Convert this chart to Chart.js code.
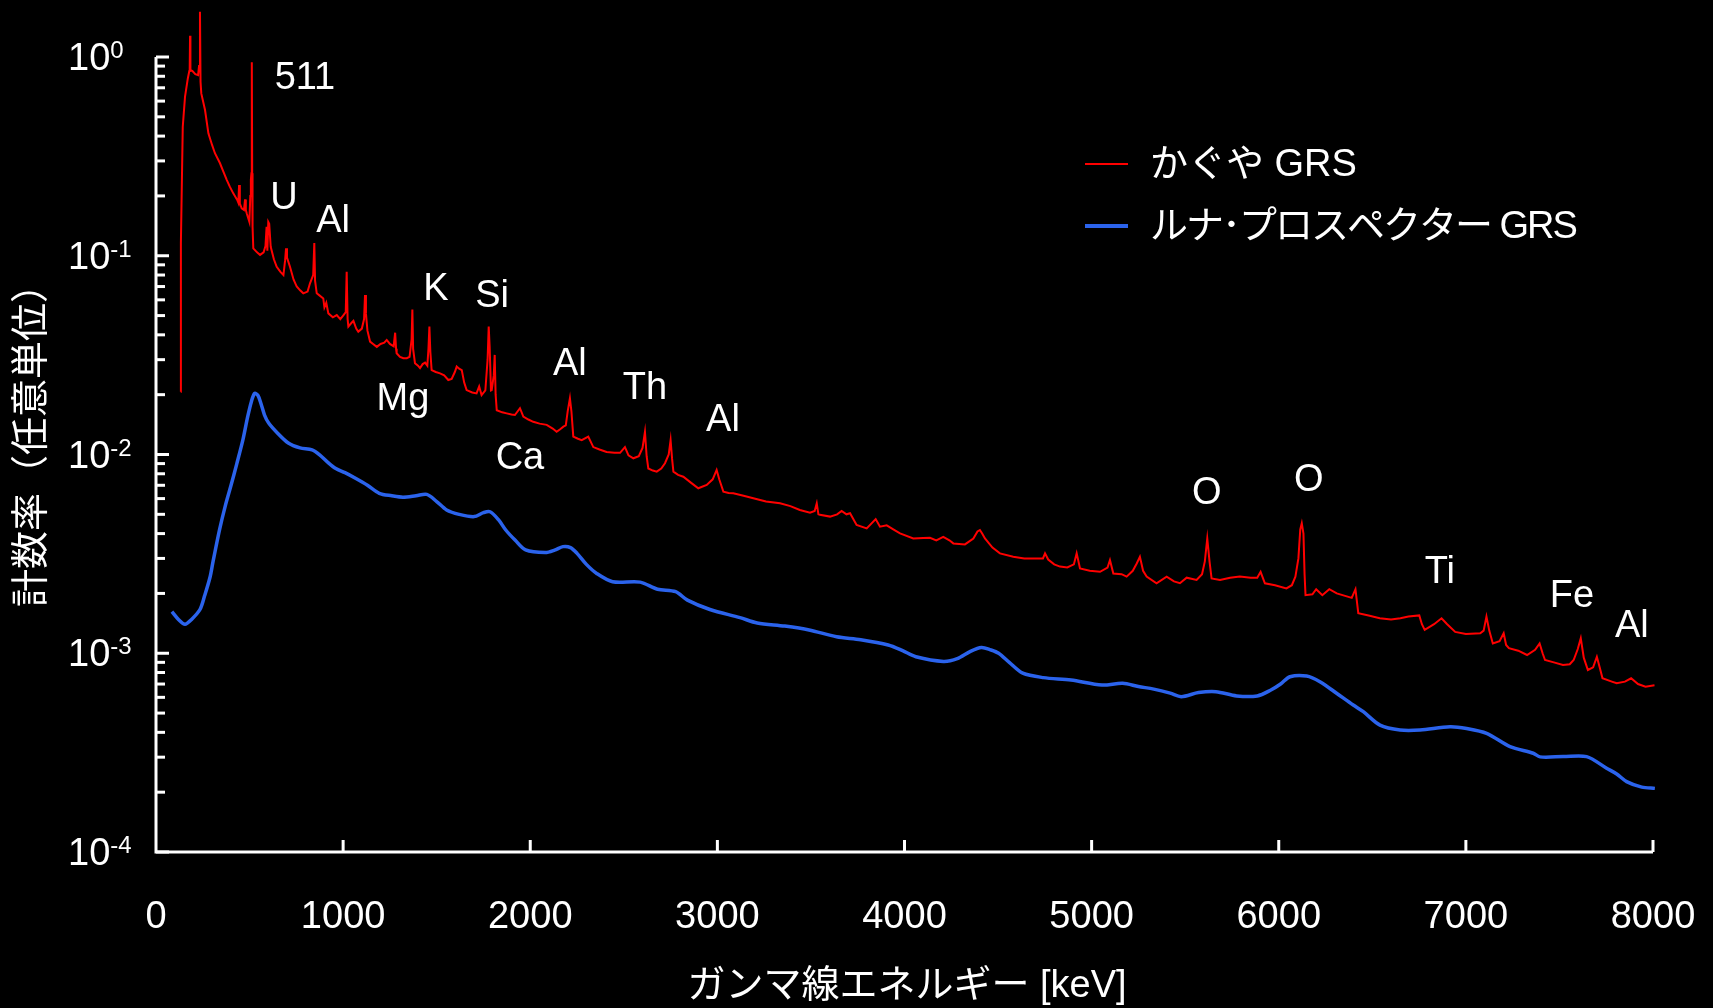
<!DOCTYPE html>
<html lang="ja">
<head>
<meta charset="utf-8">
<title>ガンマ線スペクトル</title>
<script src="https://cdn.jsdelivr.net/npm/chart.js@4.4.0/dist/chart.umd.min.js"></script>
<style>
  html, body { margin: 0; padding: 0; background: #000; }
  #wrap { width: 1713px; height: 1008px; }
</style>
</head>
<body>
<div id="wrap"><canvas id="c" width="1713" height="1008"></canvas></div>
<script>
// Kaguya GRS spectrum: energy [keV] and count rate (arbitrary units)
const kaguyaKeV = [
  132, 133, 143, 155, 170, 178, 180, 182, 184, 195, 210, 225, 230, 235, 238, 242,
  262, 280, 300, 315, 342, 360, 378, 395, 413, 435, 440, 444, 448, 458, 470, 476,
  480, 485, 499, 504, 507, 510, 512, 514, 516, 520, 540, 556, 575, 585, 591, 595,
  600, 605, 613, 630, 645, 665, 681, 690, 695, 700, 716, 735, 752, 770, 787, 810,
  823, 840, 846, 850, 859, 875, 894, 900, 910, 921, 945, 966, 985, 1000, 1014, 1019,
  1024, 1028, 1045, 1055, 1070, 1081, 1100, 1112, 1117, 1122, 1130, 1144, 1160, 1180, 1200, 1220,
  1233, 1250, 1270, 1278, 1283, 1286, 1304, 1322, 1340, 1355, 1366, 1370, 1374, 1384, 1400, 1411,
  1425, 1438, 1450, 1456, 1461, 1466, 1473, 1495, 1518, 1540, 1562, 1580, 1597, 1607, 1620, 1634,
  1647, 1660, 1690, 1713, 1727, 1740, 1760, 1772, 1778, 1783, 1790, 1794, 1805, 1810, 1815, 1821,
  1850, 1874, 1900, 1918, 1945, 1963, 1990, 2016, 2050, 2088, 2120, 2141, 2160, 2177, 2190, 2200,
  2212, 2220, 2230, 2255, 2275, 2310, 2337, 2370, 2408, 2450, 2480, 2506, 2525, 2551, 2580, 2600,
  2613, 2622, 2631, 2655, 2676, 2700, 2720, 2740, 2750, 2758, 2765, 2790, 2818, 2860, 2898, 2943,
  2975, 2996, 3010, 3032, 3060, 3085, 3140, 3192, 3260, 3335, 3390, 3441, 3495, 3520, 3531, 3540,
  3548, 3602, 3640, 3664, 3690, 3709, 3744, 3798, 3846, 3869, 3905, 3940, 3976, 4047, 4100, 4136,
  4170, 4207, 4240, 4261, 4323, 4368, 4390, 4403, 4415, 4430, 4470, 4510, 4581, 4640, 4688, 4740,
  4751, 4768, 4800, 4831, 4870, 4905, 4920, 4938, 4990, 5045, 5085, 5098, 5116, 5160, 5187, 5220,
  5241, 5258, 5275, 5294, 5347, 5401, 5440, 5472, 5508, 5561, 5590, 5605, 5618, 5630, 5641, 5686,
  5740, 5792, 5850, 5885, 5903, 5926, 5980, 6041, 6070, 6089, 6105, 6115, 6123, 6132, 6138, 6143,
  6180, 6200, 6233, 6270, 6310, 6350, 6390, 6410, 6425, 6480, 6540, 6600, 6650, 6693, 6751, 6765,
  6780, 6830, 6870, 6900, 6943, 7000, 7077, 7095, 7110, 7125, 7144, 7180, 7202, 7215, 7230, 7280,
  7327, 7370, 7394, 7410, 7423, 7470, 7519, 7555, 7576, 7598, 7614, 7630, 7652, 7680, 7700, 7715,
  7730, 7780, 7806, 7850, 7883, 7920, 7960, 8008
];
const kaguyaRate = [
  0.0207, 0.116, 0.446, 0.63, 0.78, 0.85, 0.86, 1.28, 0.86, 0.85, 0.82, 0.81, 0.9, 1.69, 0.75, 0.656,
  0.541, 0.413, 0.36, 0.328, 0.292, 0.265, 0.241, 0.222, 0.206, 0.19, 0.185, 0.227, 0.183, 0.173, 0.17, 0.192,
  0.17, 0.163, 0.148, 0.2, 0.241, 0.26, 0.94, 0.26, 0.14, 0.109, 0.104, 0.101, 0.104, 0.112, 0.14, 0.106,
  0.148, 0.145, 0.111, 0.096, 0.088, 0.083, 0.080, 0.095, 0.109, 0.098, 0.088, 0.076, 0.070, 0.067, 0.0647, 0.066,
  0.0727, 0.08, 0.116, 0.075, 0.0647, 0.063, 0.061, 0.055, 0.058, 0.0513, 0.049, 0.0503, 0.048, 0.050, 0.052, 0.083,
  0.048, 0.044, 0.046, 0.047, 0.043, 0.0415, 0.043, 0.048, 0.0635, 0.051, 0.042, 0.037, 0.036, 0.0348, 0.036, 0.0365,
  0.0377, 0.036, 0.035, 0.041, 0.034, 0.0323, 0.031, 0.0305, 0.0305, 0.031, 0.038, 0.0537, 0.034, 0.0288, 0.028, 0.0272,
  0.0285, 0.029, 0.028, 0.034, 0.044, 0.033, 0.0266, 0.026, 0.0256, 0.025, 0.0237, 0.024, 0.026, 0.0277, 0.027, 0.0266,
  0.023, 0.0211, 0.0205, 0.0203, 0.022, 0.0199, 0.021, 0.03, 0.044, 0.035, 0.021, 0.0211, 0.025, 0.0317, 0.02, 0.0167,
  0.0163, 0.0161, 0.0159, 0.0158, 0.0171, 0.0155, 0.015, 0.0146, 0.0143, 0.0141, 0.0135, 0.013, 0.0134, 0.0138, 0.014, 0.0165,
  0.0192, 0.0165, 0.0123, 0.012, 0.0118, 0.0123, 0.0109, 0.0106, 0.0103, 0.0102, 0.0102, 0.0109, 0.0099, 0.00957, 0.0098, 0.0108,
  0.013, 0.0098, 0.0085, 0.0083, 0.0082, 0.0085, 0.00904, 0.0100, 0.0118, 0.0095, 0.0082, 0.0079, 0.00773, 0.0072, 0.00676, 0.00703,
  0.0075, 0.00836, 0.0075, 0.0065, 0.0064, 0.00638, 0.0062, 0.00603, 0.0058, 0.00568, 0.0055, 0.00526, 0.0051, 0.0052, 0.00568, 0.005,
  0.00497, 0.00487, 0.0050, 0.0052, 0.0050, 0.00506, 0.00442, 0.00425, 0.00473, 0.00433, 0.0044, 0.0042, 0.00401, 0.00378, 0.0038, 0.00381,
  0.0037, 0.00385, 0.0037, 0.00357, 0.00353, 0.00378, 0.0041, 0.00417, 0.0040, 0.00378, 0.0034, 0.00318, 0.00306, 0.0030, 0.0030, 0.0030,
  0.00318, 0.00296, 0.0028, 0.00273, 0.0027, 0.0028, 0.00318, 0.00267, 0.0026, 0.00257, 0.0027, 0.00294, 0.00252, 0.0025, 0.00243, 0.0026,
  0.00283, 0.00306, 0.0026, 0.00243, 0.00225, 0.00243, 0.0023, 0.00225, 0.0024, 0.00234, 0.0025, 0.0029, 0.00378, 0.0029, 0.00238, 0.00234,
  0.0024, 0.00243, 0.0024, 0.0024, 0.00257, 0.00225, 0.0022, 0.00212, 0.0022, 0.00243, 0.0030, 0.0042, 0.00451, 0.0040, 0.0025, 0.00196,
  0.00198, 0.0021, 0.00196, 0.0021, 0.0020, 0.00195, 0.0019, 0.0021, 0.00159, 0.00155, 0.0015, 0.00148, 0.0015, 0.00153, 0.00155, 0.0014,
  0.00131, 0.0014, 0.0015, 0.0014, 0.00128, 0.00125, 0.00126, 0.0013, 0.00153, 0.0013, 0.00112, 0.00115, 0.00126, 0.0011, 0.00106, 0.00103,
  0.00098, 0.00104, 0.00112, 0.0010, 0.000925, 0.0009, 0.000873, 0.00088, 0.000925, 0.00105, 0.00119, 0.00095, 0.000824, 0.00085, 0.00096, 0.00085,
  0.000748, 0.00072, 0.000706, 0.00072, 0.000748, 0.0007, 0.000679, 0.00069
];

// Lunar Prospector GRS spectrum: energy [keV] and count rate (arbitrary units)
const prospectorKeV = [
  85, 120, 155, 190, 235, 260, 289, 305, 340, 370, 401, 432, 464, 490, 510, 527,
  545, 560, 580, 602, 650, 707, 770, 834, 876, 920, 961, 1010, 1066, 1130, 1193, 1260,
  1320, 1390, 1447, 1500, 1553, 1620, 1700, 1750, 1785, 1830, 1869, 1920, 1975, 2080,
  2130, 2175, 2215, 2250, 2300, 2355, 2440, 2587, 2680, 2777, 2840, 2960, 3121, 3213,
  3360, 3490, 3637, 3766, 3913, 3990, 4061, 4208, 4282, 4350, 4411, 4460, 4503, 4560,
  4632, 4742, 4890, 5055, 5166, 5250, 5332, 5420, 5479, 5571, 5664, 5775, 5885, 5958,
  6010, 6060, 6149, 6220, 6309, 6398, 6452, 6541, 6648, 6755, 6915, 7004, 7111, 7236,
  7360, 7396, 7520, 7645, 7752, 7806, 7859, 7940, 8010
];
const prospectorRate = [
  0.00162, 0.00148, 0.0014, 0.00148, 0.00166, 0.00195, 0.00242, 0.0029, 0.0042, 0.0055, 0.0070, 0.0090, 0.0118, 0.0155, 0.0185, 0.0203,
  0.0198, 0.01815, 0.0158, 0.0144, 0.0128, 0.01143, 0.0108, 0.01054, 0.00993, 0.0091, 0.0085, 0.0081, 0.00759, 0.0070, 0.00638, 0.0062,
  0.0061, 0.0062, 0.0063, 0.0058, 0.00526, 0.0050, 0.00487, 0.0051, 0.00515, 0.0047, 0.00417, 0.0037, 0.00331, 0.00321,
  0.0033, 0.00344, 0.0034, 0.00318, 0.0028, 0.00252, 0.00229, 0.00228, 0.0021, 0.00204, 0.00185, 0.00166, 0.00151, 0.00142,
  0.00137, 0.00131, 0.00121, 0.00117, 0.0011, 0.00103, 0.00096, 0.00091, 0.00094, 0.00102, 0.00107, 0.00104, 0.0010, 0.0009,
  0.000794, 0.000754, 0.000733, 0.000692, 0.000706, 0.00068, 0.00066, 0.00063, 0.000605, 0.000634, 0.000641, 0.00061, 0.00061, 0.000653,
  0.0007, 0.000762, 0.000768, 0.000719, 0.000629, 0.000549, 0.000508, 0.000435, 0.000411, 0.000411, 0.000427, 0.000418, 0.000395, 0.000339,
  0.000314, 0.000301, 0.000302, 0.000302, 0.000264, 0.000247, 0.000226, 0.000212, 0.000209
];

// Axis ticks
const xTickValues = [0, 1000, 2000, 3000, 4000, 5000, 6000, 7000, 8000];
const yDecadeExponents = [0, -1, -2, -3, -4];

// Element / line labels and where they sit (keV, rate)
const peakNames = ['511', 'U', 'Al', 'K', 'Si', 'Mg', 'Ca', 'Al', 'Th', 'Al', 'O', 'O', 'Ti', 'Fe', 'Al'];
const peakNameKeV = [796, 684, 946, 1496, 1796, 1320, 1945, 2212, 2613, 3030, 5616, 6161, 6861, 7567, 7887];
const peakNameRate = [0.775, 0.193, 0.148, 0.0673, 0.062, 0.0188, 0.0096, 0.0285, 0.0216, 0.01475, 0.00633, 0.00744, 0.00256, 0.00192, 0.00137];

const seriesNames = ['かぐや GRS', 'ルナ･プロスペクター GRS'];
const xTitle = 'ガンマ線エネルギー [keV]';
const yTitle = '計数率（任意単位）';

const RED = '#ff0000';
const BLUE = '#2b63ec';
const FONT = '"Liberation Sans", "Noto Sans CJK JP", Arial, sans-serif';

function toPoints(xs, ys) {
  return xs.map((x, i) => ({ x: x, y: ys[i] }));
}

// Axes, ticks, titles, legend and element labels drawn on top of the plot
const decorations = {
  id: 'decorations',
  afterDraw(chart) {
    const ctx = chart.ctx;
    const xs = chart.scales.x;
    const ys = chart.scales.y;
    ctx.save();
    ctx.strokeStyle = '#ffffff';
    ctx.fillStyle = '#ffffff';
    ctx.lineWidth = 3;
    ctx.lineCap = 'butt';

    // axis lines
    const x0 = xs.getPixelForValue(0);
    const yBottom = ys.getPixelForValue(1e-4);
    const yTop = ys.getPixelForValue(1);
    const xEnd = xs.getPixelForValue(8000);
    ctx.beginPath();
    ctx.moveTo(x0, yTop);
    ctx.lineTo(x0, yBottom);
    ctx.lineTo(xEnd, yBottom);
    ctx.stroke();

    // x ticks (pointing inward) and labels
    ctx.font = '38px ' + FONT;
    ctx.textAlign = 'center';
    ctx.textBaseline = 'alphabetic';
    xTickValues.forEach(v => {
      const px = xs.getPixelForValue(v);
      if (v > 0) {
        ctx.beginPath();
        ctx.moveTo(px, yBottom);
        ctx.lineTo(px, yBottom - 12);
        ctx.stroke();
      }
      ctx.fillText(String(v), px, yBottom + 76);
    });

    // y ticks: decades and minor steps
    yDecadeExponents.forEach(e => {
      const py = ys.getPixelForValue(Math.pow(10, e));
      ctx.beginPath();
      ctx.moveTo(x0, py);
      ctx.lineTo(x0 + 13, py);
      ctx.stroke();
      if (e < 0) {
        for (let m = 2; m <= 9; m++) {
          const pm = ys.getPixelForValue(m * Math.pow(10, e));
          ctx.beginPath();
          ctx.moveTo(x0, pm);
          ctx.lineTo(x0 + 9, pm);
          ctx.stroke();
        }
      }
      // label 10^e
      ctx.textAlign = 'left';
      ctx.font = '38px ' + FONT;
      const lx = 68;
      ctx.fillText('10', lx, py + 13);
      const w = ctx.measureText('10').width;
      ctx.font = '24px ' + FONT;
      ctx.fillText(e === 0 ? '0' : '-' + Math.abs(e), lx + w, py + 1);
    });

    // axis titles
    ctx.font = '38px ' + FONT;
    ctx.textAlign = 'center';
    ctx.textBaseline = 'middle';
    ctx.fillText(xTitle, 907, 987);
    ctx.save();
    ctx.translate(33, 436);
    ctx.rotate(-Math.PI / 2);
    ctx.fillText(yTitle, 0, 0);
    ctx.restore();

    // element labels
    ctx.font = '38px ' + FONT;
    ctx.textAlign = 'center';
    ctx.textBaseline = 'middle';
    peakNames.forEach((name, i) => {
      ctx.fillText(name, xs.getPixelForValue(peakNameKeV[i]), ys.getPixelForValue(peakNameRate[i]));
    });

    // legend
    const legendRows = [164, 226];
    const legendColors = [RED, BLUE];
    const legendWidths = [2, 4];
    const legendSpacing = ['0px', '-2px'];
    ctx.textAlign = 'left';
    ctx.textBaseline = 'middle';
    legendRows.forEach((ly, i) => {
      ctx.strokeStyle = legendColors[i];
      ctx.lineWidth = legendWidths[i];
      ctx.beginPath();
      ctx.moveTo(1085, ly);
      ctx.lineTo(1128, ly);
      ctx.stroke();
      ctx.fillStyle = '#ffffff';
      ctx.letterSpacing = legendSpacing[i];
      ctx.fillText(seriesNames[i], 1150, ly + 2);
    });
    ctx.letterSpacing = '0px';
    ctx.restore();
  }
};

new Chart(document.getElementById('c'), {
  type: 'line',
  data: {
    datasets: [
      {
        label: seriesNames[0],
        data: toPoints(kaguyaKeV, kaguyaRate),
        borderColor: RED,
        borderWidth: 2,
        pointRadius: 0,
        tension: 0,
        fill: false,
        clip: false
      },
      {
        label: seriesNames[1],
        data: toPoints(prospectorKeV, prospectorRate),
        borderColor: BLUE,
        borderWidth: 3.5,
        pointRadius: 0,
        tension: 0.3,
        fill: false,
        clip: false
      }
    ]
  },
  options: {
    responsive: false,
    animation: false,
    devicePixelRatio: 1,
    layout: { padding: { left: 156, right: 60, top: 57, bottom: 156 } },
    plugins: { legend: { display: false }, tooltip: { enabled: false } },
    scales: {
      x: { type: 'linear', min: 0, max: 8000, display: false },
      y: { type: 'logarithmic', min: 1e-4, max: 1, display: false }
    }
  },
  plugins: [decorations]
});
</script>
</body>
</html>
